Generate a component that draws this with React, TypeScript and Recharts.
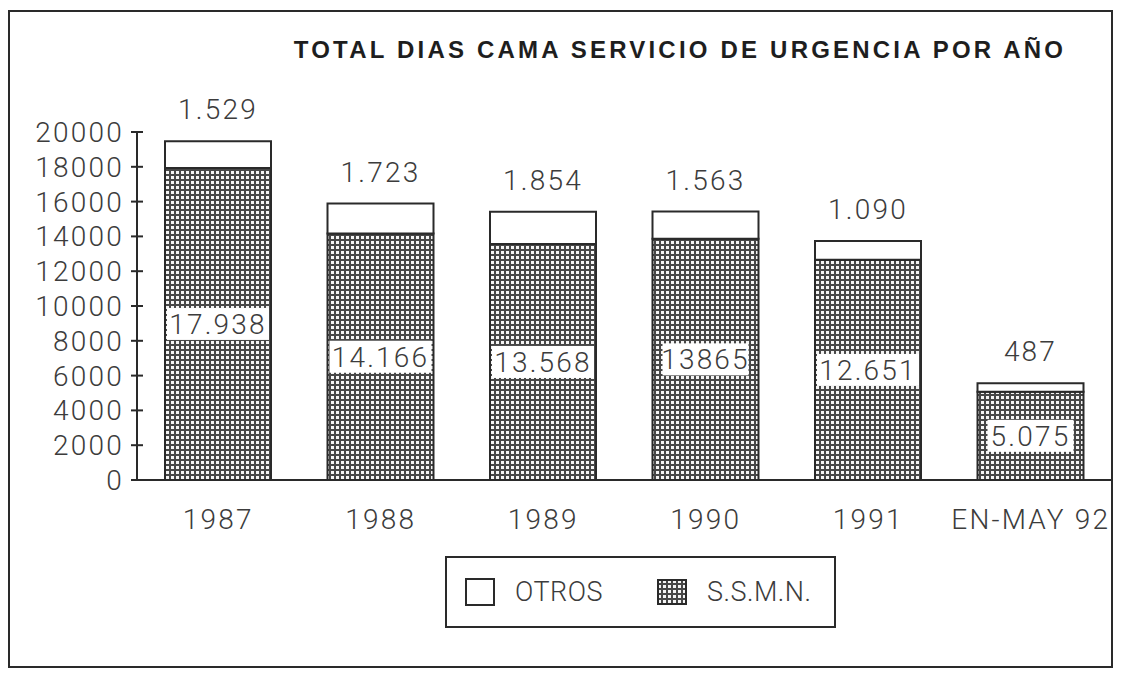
import React from 'react';
import { BarChart, Bar, XAxis, YAxis, LabelList } from 'recharts';

const categories = ['1987', '1988', '1989', '1990', '1991', 'EN-MAY 92'];
const ssmnValues = [17938, 14166, 13568, 13865, 12651, 5075];
const otrosValues = [1529, 1723, 1854, 1563, 1090, 487];
const ssmnLabels = ['17.938', '14.166', '13.568', '13865', '12.651', '5.075'];
const otrosLabels = ['1.529', '1.723', '1.854', '1.563', '1.090', '487'];
const yTicks = [0, 2000, 4000, 6000, 8000, 10000, 12000, 14000, 16000, 18000, 20000];

const data = categories.map((name, i) => ({
  name,
  ssmn: ssmnValues[i],
  otros: otrosValues[i],
  ssmnLabel: ssmnLabels[i],
  otrosLabel: otrosLabels[i],
}));

const INK = '#2a2a2a';
const TEXT = '#3c3c3c';
const FONT = 'Roboto, "Liberation Sans", sans-serif';
const FS = 28;
const LS = 2.2;

const DotPattern = ({ id }: { id: string }) => (
  <pattern id={id} patternUnits="userSpaceOnUse" width={5} height={5}>
    <rect width={5} height={5} fill="#474747" />
    <rect x={1} y={1} width={3} height={3} fill="#f4f4f4" />
  </pattern>
);

const YTick = (props: any) => {
  const { x, y, payload } = props;
  const axisX = x + 13;
  return (
    <g>
      <line x1={axisX - 6} x2={axisX + 6} y1={y} y2={y} stroke={INK} strokeWidth={2} />
      <text x={x} y={y} dy={10} textAnchor="end" fontSize={FS} fontWeight={300} letterSpacing={LS} fill={TEXT} fontFamily={FONT}>
        {payload.value}
      </text>
    </g>
  );
};

const XTick = (props: any) => {
  const { x, y, payload } = props;
  return (
    <text x={x} y={y} dy={47} textAnchor="middle" fontSize={FS} fontWeight={300} letterSpacing={LS} fill={TEXT} fontFamily={FONT}>
      {payload.value}
    </text>
  );
};

const InnerLabel = (props: any) => {
  const { x, y, width, height, value } = props;
  const cx = x + width / 2;
  const cy = y + height / 2;
  const w = String(value).length * 16 + 6;
  return (
    <g>
      <rect x={cx - w / 2} y={cy - 16} width={w} height={32} fill="#ffffff" />
      <text x={cx} y={cy} dy={10} textAnchor="middle" fontSize={FS} fontWeight={300} letterSpacing={LS} fill={TEXT} fontFamily={FONT}>
        {value}
      </text>
    </g>
  );
};

const TopLabel = (props: any) => {
  const { x, y, width, value } = props;
  return (
    <text x={x + width / 2} y={y - 22} textAnchor="middle" fontSize={FS} fontWeight={300} letterSpacing={LS} fill={TEXT} fontFamily={FONT}>
      {value}
    </text>
  );
};

const LegendBox = () => (
  <div
    style={{
      position: 'absolute',
      left: 445,
      top: 556,
      width: 391,
      height: 72,
      border: `2px solid ${INK}`,
      boxSizing: 'border-box',
      display: 'flex',
      alignItems: 'center',
      fontFamily: FONT,
      fontWeight: 300,
      fontSize: 27,
      letterSpacing: 0.5,
      color: TEXT,
      whiteSpace: 'nowrap',
    }}
  >
    <svg width={30} height={28} style={{ marginLeft: 18 }}>
      <rect x={1} y={1} width={28} height={26} fill="#fff" stroke={INK} strokeWidth={2} />
    </svg>
    <span style={{ marginLeft: 20 }}>OTROS</span>
    <svg width={30} height={26} style={{ marginLeft: 54 }}>
      <defs>
        <DotPattern id="legendDots" />
      </defs>
      <rect x={1} y={1} width={28} height={24} fill="url(#legendDots)" stroke={INK} strokeWidth={2} />
    </svg>
    <span style={{ marginLeft: 20 }}>S.S.M.N.</span>
  </div>
);

export default function App() {
  return (
    <div style={{ position: 'absolute', left: 0, top: 0, width: 1124, height: 673, background: '#fff', overflow: 'hidden' }}>
      <div
        style={{
          position: 'absolute',
          left: 8,
          top: 10,
          width: 1105,
          height: 658,
          border: `2px solid ${INK}`,
          boxSizing: 'border-box',
        }}
      />
      <div
        style={{
          position: 'absolute',
          left: 240,
          top: 36,
          width: 880,
          textAlign: 'center',
          whiteSpace: 'nowrap',
          fontFamily: '"Liberation Sans", Arial, sans-serif',
          fontWeight: 700,
          fontSize: 24,
          letterSpacing: 3.2,
          color: '#1e1e1e',
        }}
      >
        TOTAL DIAS CAMA SERVICIO DE URGENCIA POR AÑO
      </div>
      <div style={{ position: 'absolute', left: 0, top: 0 }}>
        <BarChart width={1124} height={673} data={data} margin={{ top: 132, right: 12, bottom: 153, left: 0 }}>
          <defs>
            <DotPattern id="barDots" />
          </defs>
          <XAxis
            dataKey="name"
            axisLine={{ stroke: INK, strokeWidth: 2 }}
            tickLine={false}
            tickSize={0}
            height={40}
            tick={<XTick />}
            interval={0}
          />
          <YAxis
            domain={[0, 20000]}
            ticks={yTicks}
            interval={0}
            width={137}
            axisLine={{ stroke: INK, strokeWidth: 2 }}
            tickLine={false}
            tickSize={0}
            tickMargin={13}
            tick={<YTick />}
          />
          <Bar dataKey="ssmn" stackId="a" barSize={106} fill="url(#barDots)" stroke={INK} strokeWidth={2} isAnimationActive={false}>
            <LabelList dataKey="ssmnLabel" content={<InnerLabel />} />
          </Bar>
          <Bar dataKey="otros" stackId="a" barSize={106} fill="#ffffff" stroke={INK} strokeWidth={2} isAnimationActive={false}>
            <LabelList dataKey="otrosLabel" content={<TopLabel />} />
          </Bar>
        </BarChart>
      </div>
      <LegendBox />
    </div>
  );
}
